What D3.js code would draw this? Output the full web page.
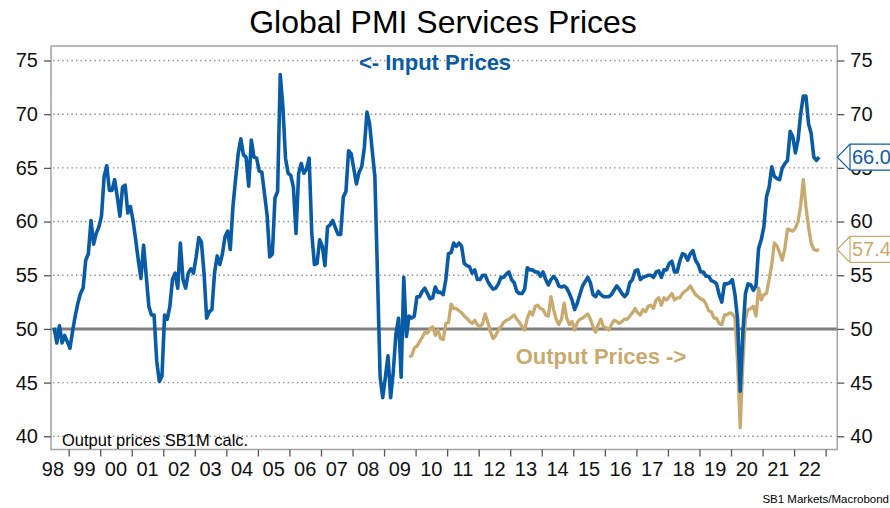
<!DOCTYPE html>
<html>
<head>
<meta charset="utf-8">
<script src="https://cdn.jsdelivr.net/npm/d3@7/dist/d3.min.js"></script>
<style>
  html, body { margin: 0; padding: 0; background: #ffffff; }
  svg { display: block; }
  text { font-family: "Liberation Sans", Arial, sans-serif; }
</style>
</head>
<body>
<svg id="chart" width="890" height="508"></svg>
<script>
// ---------- DATA ----------
const inputStart = [1998, 7];   // first month of input prices (year, month)
const outputStart = [2009, 10]; // first month of output prices
const inputPrices = [
  50.1,48.7,50.3,48.7,49.4,48.8,48.2,49.8,51.2,52.4,53.3,53.8,
  56.4,57.0,60.1,57.9,58.9,59.5,60.5,64.2,65.2,62.9,62.9,63.9,
  62.3,60.5,63.2,63.4,60.8,61.4,60.1,58.3,56.4,54.7,57.8,55.0,
  52.1,51.3,51.3,47.0,45.1,45.6,51.3,50.9,52.1,54.6,55.2,53.8,
  58.0,54.6,53.8,55.2,55.6,55.2,56.7,58.5,58.1,55.2,51.0,51.6,
  51.8,55.2,56.8,56.0,57.0,58.6,59.1,57.4,61.4,63.9,66.3,67.7,
  66.2,66.0,63.3,67.6,66.0,65.9,64.7,64.6,62.6,60.6,56.7,57.0,
  62.2,62.8,73.7,70.7,65.9,64.5,64.3,63.2,58.9,64.5,65.4,64.5,
  64.9,65.9,58.9,56.0,56.1,58.3,57.7,55.9,59.5,59.7,60.1,59.4,
  58.8,58.8,62.3,62.8,66.6,66.3,64.9,63.5,64.6,65.1,66.9,70.2,
  69.1,66.6,64.2,55.0,45.5,43.6,45.5,47.5,43.6,46.0,49.5,51.0,
  45.5,54.8,49.3,51.2,51.0,51.2,53.0,53.0,53.5,53.8,53.3,52.8,
  52.9,53.9,53.4,53.4,53.2,54.6,57.0,57.1,58.0,57.7,58.0,57.7,
  56.1,55.9,55.8,55.2,55.5,54.6,54.6,55.0,55.0,54.4,54.0,53.7,
  53.8,54.2,54.8,54.8,55.1,55.3,54.6,54.3,53.5,53.3,53.3,53.7,
  55.7,55.5,55.5,55.3,55.3,54.9,55.3,54.6,54.1,54.6,54.9,54.6,
  54.0,53.9,54.0,53.8,53.3,52.7,51.8,52.4,53.2,54.0,54.4,54.8,
  54.3,53.2,53.0,53.5,53.2,53.0,53.0,53.0,53.2,53.6,54.0,53.7,
  53.3,53.0,53.3,54.3,54.6,55.4,55.5,54.6,54.8,54.9,55.0,55.0,
  54.8,55.3,55.4,54.8,55.5,55.5,56.1,56.3,55.3,55.3,56.3,57.0,
  56.9,56.4,57.0,57.3,56.4,56.0,55.3,55.3,54.9,54.9,54.5,54.4,
  54.2,53.2,52.5,54.2,54.2,54.3,54.6,53.2,50.9,44.2,49.6,53.3,
  54.2,54.1,53.6,54.0,57.5,58.3,59.5,62.3,63.2,65.1,64.2,64.0,
  63.9,65.0,65.4,65.7,68.4,67.9,66.4,67.6,70.0,71.7,71.7,69.1,
  68.2,66.0,65.7,66.0
];
const outputPrices = [
  47.4,47.5,48.2,48.4,48.8,49.2,49.7,49.6,50.0,50.2,49.4,49.9,
  49.1,49.0,50.5,50.6,52.3,51.9,51.9,51.7,51.5,51.2,51.0,50.7,
  50.5,50.8,50.4,50.2,50.5,51.4,50.6,49.7,49.1,49.4,49.9,50.2,
  50.6,50.8,50.9,51.1,51.3,50.9,50.6,50.2,49.9,51.0,51.6,51.3,
  52.1,52.2,51.9,51.8,51.3,51.2,53.0,51.8,50.9,50.4,50.9,52.4,
  51.0,50.4,50.7,49.9,50.6,50.9,51.0,51.2,51.4,50.9,50.2,49.7,
  50.4,50.9,50.2,50.1,49.9,50.4,50.8,50.7,50.5,50.7,50.9,50.9,
  51.2,51.5,51.9,51.5,51.3,51.8,51.6,52.1,52.2,51.9,52.7,52.9,
  52.2,52.9,52.7,53.0,53.3,52.7,52.9,52.9,53.3,53.5,53.7,54.0,
  53.6,53.2,53.0,52.8,52.7,52.3,51.7,51.6,51.0,51.0,50.5,50.4,
  51.3,51.3,51.5,51.4,51.0,46.8,40.8,46.8,51.0,51.8,51.9,52.1,
  51.2,53.8,52.7,53.2,53.3,54.6,56.0,58.0,57.7,57.1,56.4,57.5,
  59.3,59.2,59.1,59.4,60.0,61.5,63.9,61.4,59.5,58.0,57.4,57.3,
  57.4
];
const yTicks = [40, 45, 50, 55, 60, 65, 70, 75];
const yearTicks = d3.range(1999, 2024);
const yearLabels = ["98","99","00","01","02","03","04","05","06","07","08","09","10",
                    "11","12","13","14","15","16","17","18","19","20","21","22"];
const labelYears = d3.range(1998, 2023);
const lastInputLabel = "66.0";
const lastOutputLabel = "57.4";

// ---------- SETUP ----------
const W = 890, H = 508;
const pL = 51, pR = 837.3, pT = 46, pB = 449.5;
const BLUE = "#0a5ba6", TAN = "#c8aa6e";
const svg = d3.select("#chart");

const x = d3.scaleLinear().domain([1998.44, 2023.37]).range([pL, pR]);
const y = d3.scaleLinear().domain([38.77, 76.35]).range([pB, pT]);

const toSeries = (start, vals) => vals.map((v, i) => ({
  t: start[0] + (start[1] - 1 + i + 0.5) / 12, v
}));
const inSeries = toSeries(inputStart, inputPrices);
const outSeries = toSeries(outputStart, outputPrices);

// Title
svg.append("text").attr("x", 443).attr("y", 33).attr("text-anchor", "middle")
  .attr("font-size", 32).attr("fill", "#000").text("Global PMI Services Prices");

// Gridlines
svg.append("g").selectAll("line").data(yTicks.filter(d => d !== 50)).join("line")
  .attr("x1", pL + 2).attr("x2", pR - 2)
  .attr("y1", d => y(d)).attr("y2", d => y(d))
  .attr("stroke", "#8c8c8c").attr("stroke-width", 1.4)
  .attr("stroke-dasharray", "1.4,3.2");

// 50 reference line
svg.append("line").attr("x1", pL).attr("x2", pR)
  .attr("y1", y(50)).attr("y2", y(50))
  .attr("stroke", "#7f7f7f").attr("stroke-width", 3);

// Frame
svg.append("rect").attr("x", pL).attr("y", pT)
  .attr("width", pR - pL).attr("height", pB - pT)
  .attr("fill", "none").attr("stroke", "#a8a8a8").attr("stroke-width", 1.6);

// Axes
const axisStyle = g => {
  g.select(".domain").remove();
  g.selectAll(".tick line").attr("stroke", "#555").attr("stroke-width", 1.3);
  g.selectAll(".tick text").attr("font-family", "Liberation Sans, Arial, sans-serif")
    .attr("font-size", 20).attr("fill", "#111");
};
svg.append("g").attr("transform", `translate(${pL},0)`)
  .call(d3.axisLeft(y).tickValues(yTicks).tickSize(7).tickPadding(6).tickFormat(d3.format("d")))
  .call(axisStyle);
svg.append("g").attr("transform", `translate(${pR},0)`)
  .call(d3.axisRight(y).tickValues(yTicks).tickSize(7).tickPadding(6).tickFormat(d3.format("d")))
  .call(axisStyle);
// x ticks at year boundaries
svg.append("g").attr("transform", `translate(0,${pB})`)
  .call(d3.axisBottom(x).tickValues(yearTicks).tickSize(7).tickFormat(""))
  .call(axisStyle);
// x labels at mid-year
svg.append("g").selectAll("text").data(labelYears).join("text")
  .attr("x", d => x(d + 0.5)).attr("y", 476).attr("text-anchor", "middle")
  .attr("font-size", 20).attr("fill", "#111")
  .text((d, i) => yearLabels[i]);

// Lines
const line = d3.line().x(d => x(d.t)).y(d => y(d.v)).curve(d3.curveLinear);
svg.append("clipPath").attr("id", "clip").append("rect")
  .attr("x", pL).attr("y", pT).attr("width", pR - pL).attr("height", pB - pT);
svg.append("path").datum(outSeries).attr("d", line).attr("fill", "none")
  .attr("stroke", TAN).attr("stroke-width", 3.3).attr("stroke-linejoin", "round")
  .attr("clip-path", "url(#clip)");
svg.append("path").datum(inSeries).attr("d", line).attr("fill", "none")
  .attr("stroke", BLUE).attr("stroke-width", 3.6).attr("stroke-linejoin", "round")
  .attr("clip-path", "url(#clip)");

// Series annotations
svg.append("text").attr("x", 435).attr("y", 70).attr("text-anchor", "middle")
  .attr("font-size", 22).attr("font-weight", "bold").attr("fill", BLUE).text("<- Input Prices");
svg.append("text").attr("x", 601).attr("y", 364).attr("text-anchor", "middle")
  .attr("font-size", 22).attr("font-weight", "bold").attr("fill", TAN).text("Output Prices ->");

// Footnotes
svg.append("text").attr("x", 62).attr("y", 446).attr("font-size", 16.5).attr("fill", "#000")
  .text("Output prices SB1M calc.");
svg.append("text").attr("x", 889).attr("y", 503).attr("text-anchor", "end")
  .attr("font-size", 11.5).attr("fill", "#000").text("SB1 Markets/Macrobond");

// Last value tags (drawn over the right axis labels, as in the original)
function tag(val, txt, color) {
  const yy = y(val), h = 13, bx = 850;
  const g = svg.append("g");
  g.append("path")
    .attr("d", `M${pR},${yy} L${bx},${yy - h} L${W + 5},${yy - h} L${W + 5},${yy + h} L${bx},${yy + h} Z`)
    .attr("fill", "#fff").attr("stroke", color).attr("stroke-width", 1.2);
  g.append("line").attr("x1", bx).attr("x2", bx).attr("y1", yy - h).attr("y2", yy + h)
    .attr("stroke", color).attr("stroke-width", 1.2);
  g.append("text").attr("x", bx + 2).attr("y", yy + 7).attr("font-size", 20)
    .attr("fill", color).text(txt);
}
tag(inputPrices[inputPrices.length - 1], lastInputLabel, BLUE);
tag(outputPrices[outputPrices.length - 1], lastOutputLabel, TAN);
</script>
</body>
</html>
